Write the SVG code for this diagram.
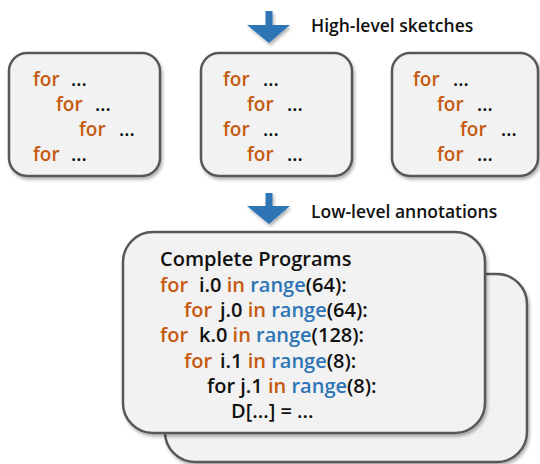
<svg xmlns="http://www.w3.org/2000/svg" width="540" height="464" viewBox="0 0 540 464">
<style>
text{font-family:"Open Sans","Noto Sans","DejaVu Sans",sans-serif;font-weight:600;fill:#111}
.box{fill:#F2F2F2;stroke:#595959;stroke-width:2.5}
.sk{font-size:19px}
.pg{font-size:20px}
.lbl{font-size:17.5px}
.o{fill:#C55A11}
.b{fill:#2E75B6}
.arr{fill:#2E75B6}
</style>
<defs>
<filter id="sh" x="-10%" y="-10%" width="130%" height="130%">
<feDropShadow dx="1.5" dy="2.5" stdDeviation="1.5" flood-color="#000" flood-opacity="0.3"/>
</filter>
</defs>
<g id="connectors">
<polygon class="arr" filter="url(#sh)" points="265.5,11 272.5,11 272.5,25 290,25 269,43 247,25 265.5,25"/>
<polygon class="arr" filter="url(#sh)" points="265.5,193 272.5,193 272.5,206 290,206 269,224 247,206 265.5,206"/>
</g>
<g id="label-high">
<text class="lbl" x="311" y="32">High-level sketches</text>
</g>
<g id="label-low">
<text class="lbl" x="311" y="218">Low-level annotations</text>
</g>
<g id="sketch1">
<rect class="box" filter="url(#sh)" x="9" y="53" width="151" height="123" rx="18"/>
<text class="sk"><tspan class="o" x="33" y="86">for</tspan><tspan x="71" y="86">...</tspan><tspan class="o" x="56" y="111">for</tspan><tspan x="95" y="111">...</tspan><tspan class="o" x="79" y="136">for</tspan><tspan x="119" y="136">...</tspan><tspan class="o" x="33" y="161">for</tspan><tspan x="71" y="161">...</tspan></text>
</g>
<g id="sketch2">
<rect class="box" filter="url(#sh)" x="201" y="53" width="151" height="123" rx="18"/>
<text class="sk"><tspan class="o" x="223" y="86">for</tspan><tspan x="263" y="86">...</tspan><tspan class="o" x="247" y="111">for</tspan><tspan x="287" y="111">...</tspan><tspan class="o" x="223" y="136">for</tspan><tspan x="263" y="136">...</tspan><tspan class="o" x="247" y="161">for</tspan><tspan x="287" y="161">...</tspan></text>
</g>
<g id="sketch3">
<rect class="box" filter="url(#sh)" x="392" y="53" width="146" height="123" rx="18"/>
<text class="sk"><tspan class="o" x="413" y="86">for</tspan><tspan x="453" y="86">...</tspan><tspan class="o" x="437" y="111">for</tspan><tspan x="477" y="111">...</tspan><tspan class="o" x="460" y="136">for</tspan><tspan x="501" y="136">...</tspan><tspan class="o" x="437" y="161">for</tspan><tspan x="477" y="161">...</tspan></text>
</g>
<g id="program-back">
<rect class="box" filter="url(#sh)" x="165" y="274" width="362" height="188" rx="30"/>
</g>
<g id="program-front">
<rect class="box" filter="url(#sh)" x="123" y="232" width="362" height="201" rx="30"/>
<text class="pg" x="160" y="266">Complete Programs</text>
<text class="pg"><tspan class="o" x="160" y="292">for</tspan><tspan x="199" y="292">i.0 </tspan><tspan class="o">in</tspan> <tspan class="b">range</tspan>(64):</text>
<text class="pg"><tspan class="o" x="184" y="317">for</tspan><tspan x="220" y="317">j.0 </tspan><tspan class="o">in</tspan> <tspan class="b">range</tspan>(64):</text>
<text class="pg"><tspan class="o" x="160" y="342">for</tspan><tspan x="199" y="342">k.0 </tspan><tspan class="o">in</tspan> <tspan class="b">range</tspan>(128):</text>
<text class="pg"><tspan class="o" x="184" y="368">for</tspan><tspan x="220" y="368">i.1 </tspan><tspan class="o">in</tspan> <tspan class="b">range</tspan>(8):</text>
<text class="pg" x="207" y="393">for j.1 <tspan class="o">in</tspan> <tspan class="b">range</tspan>(8):</text>
<text class="pg" x="231" y="418">D[...] = ...</text>
</g>
</svg>
